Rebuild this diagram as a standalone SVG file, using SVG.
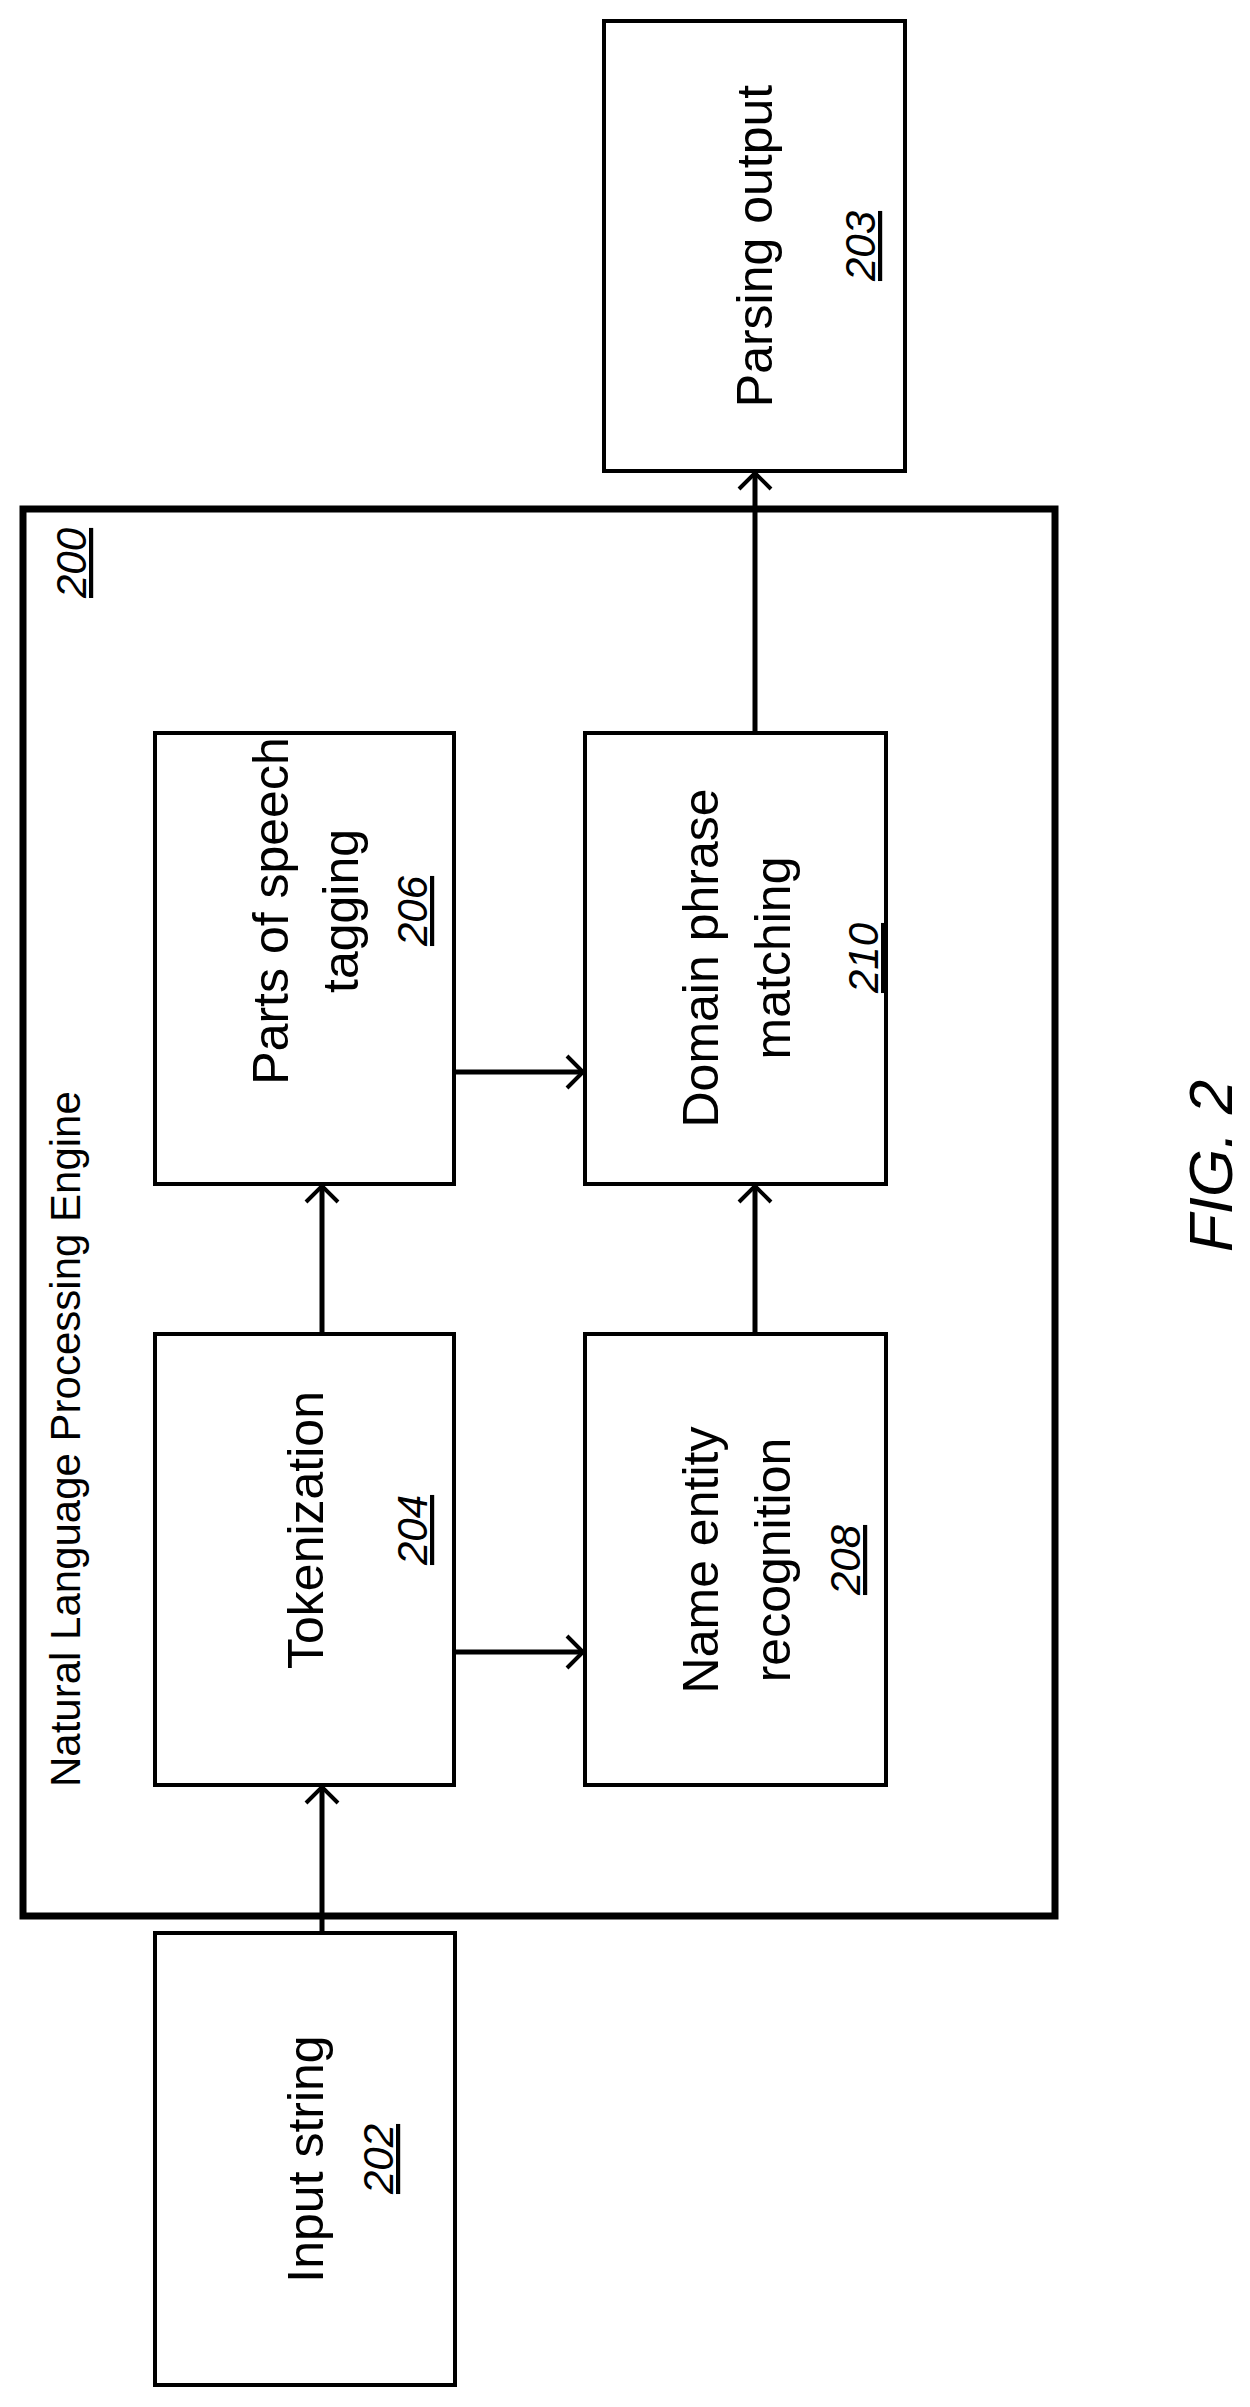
<svg xmlns="http://www.w3.org/2000/svg" width="1250" height="2407" viewBox="0 0 1250 2407">
<style>
.box{fill:none;stroke:#000;stroke-width:4}
.outer{fill:none;stroke:#000;stroke-width:7}
.lbl{font-family:"Liberation Sans",Arial,sans-serif;font-size:50px;fill:#000;text-anchor:middle}
.num{font-family:"Liberation Sans",Arial,sans-serif;font-size:42px;font-style:italic;text-decoration:underline;fill:#000;text-anchor:middle}
.small{font-family:"Liberation Sans",Arial,sans-serif;font-size:42px;fill:#000}
.conn{stroke:#000;stroke-width:5;fill:none}
</style>
<defs>
<marker id="arr" markerUnits="userSpaceOnUse" markerWidth="40" markerHeight="40" refX="0" refY="0" viewBox="-20 -20 40 40" orient="auto" overflow="visible">
<path d="M-16,-16 L0,0 L-16,16" fill="none" stroke="#000" stroke-width="4"/>
</marker>
</defs>
<g id="n200">
<rect class="outer" x="23" y="509" width="1032" height="1407"/>
<text class="small" transform="translate(80,1787) rotate(-90)">Natural Language Processing Engine</text>
<text class="num" style="text-anchor:start" transform="translate(86,598) rotate(-90)">200</text>
</g>
<g id="n203">
<rect class="box" x="604" y="21" width="301" height="450"/>
<text class="lbl" transform="translate(772,246) rotate(-90)">Parsing output</text>
<text class="num" transform="translate(875,246) rotate(-90)">203</text>
</g>
<g id="n206">
<rect class="box" x="155" y="733" width="299" height="451"/>
<text class="lbl" transform="translate(288,911) rotate(-90)">Parts of speech</text>
<text class="lbl" transform="translate(358,911) rotate(-90)">tagging</text>
<text class="num" transform="translate(427,911) rotate(-90)">206</text>
</g>
<g id="n210">
<rect class="box" x="585" y="733" width="301" height="451"/>
<text class="lbl" transform="translate(718,958) rotate(-90)">Domain phrase</text>
<text class="lbl" transform="translate(790,958) rotate(-90)">matching</text>
<text class="num" transform="translate(878,958) rotate(-90)">210</text>
</g>
<g id="n204">
<rect class="box" x="155" y="1334" width="299" height="451"/>
<text class="lbl" transform="translate(323,1530) rotate(-90)">Tokenization</text>
<text class="num" transform="translate(427,1530) rotate(-90)">204</text>
</g>
<g id="n208">
<rect class="box" x="585" y="1334" width="301" height="451"/>
<text class="lbl" transform="translate(718,1560) rotate(-90)">Name entity</text>
<text class="lbl" transform="translate(790,1560) rotate(-90)">recognition</text>
<text class="num" transform="translate(860,1560) rotate(-90)">208</text>
</g>
<g id="n202">
<rect class="box" x="155" y="1933" width="300" height="452"/>
<text class="lbl" transform="translate(323,2159) rotate(-90)">Input string</text>
<text class="num" transform="translate(393,2159) rotate(-90)">202</text>
</g>
<g id="fig">
<text style="font-family:'Liberation Sans',Arial,sans-serif;font-size:62px;font-style:italic;text-anchor:middle" transform="translate(1232,1166) rotate(-90)">FIG. 2</text>
</g>
<g id="connectors">
<line class="conn" x1="322" y1="1933" x2="322" y2="1787" marker-end="url(#arr)"/>
<line class="conn" x1="322" y1="1334" x2="322" y2="1186" marker-end="url(#arr)"/>
<line class="conn" x1="454" y1="1652" x2="583" y2="1652" marker-end="url(#arr)"/>
<line class="conn" x1="454" y1="1072" x2="583" y2="1072" marker-end="url(#arr)"/>
<line class="conn" x1="755" y1="1334" x2="755" y2="1186" marker-end="url(#arr)"/>
<line class="conn" x1="755" y1="733" x2="755" y2="473" marker-end="url(#arr)"/>
</g>
</svg>
